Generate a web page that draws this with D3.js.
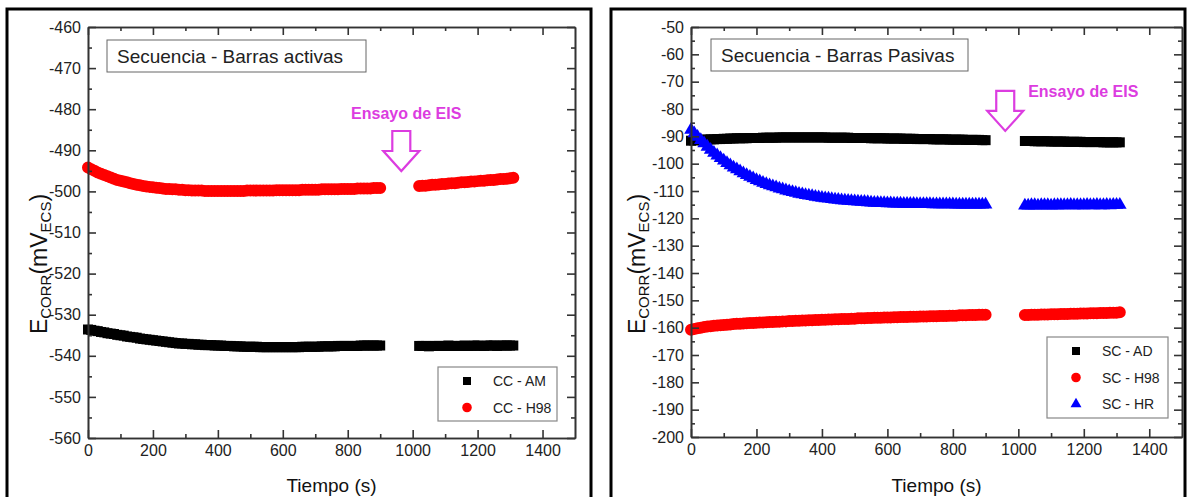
<!DOCTYPE html>
<html>
<head>
<meta charset="utf-8">
<script src="https://cdn.jsdelivr.net/npm/d3@7"></script>
<style>
  body{margin:0;background:#fff;}
  svg{display:block;font-family:Arial,"Liberation Sans",sans-serif;}
</style>
</head>
<body>
<div id="chart"></div>
<script>
// Time (s) before and after the EIS test
const timeA = [0,10,20,30,40,50,60,70,80,90,100,110,120,130,140,150,160,170,180,190,
  200,210,220,230,240,250,260,270,280,290,300,310,320,330,340,350,360,370,380,390,
  400,410,420,430,440,450,460,470,480,490,500,510,520,530,540,550,560,570,580,590,
  600,610,620,630,640,650,660,670,680,690,700,710,720,730,740,750,760,770,780,790,
  800,810,820,830,840,850,860,870,880,890,900];
const timeB = [1020,1030,1040,1050,1060,1070,1080,1090,1100,1110,1120,1130,1140,1150,1160,
  1170,1180,1190,1200,1210,1220,1230,1240,1250,1260,1270,1280,1290,1300,1310];

// Left panel: Barras activas
const ccAmA = [-533.6,-533.7,-533.9,-534.0,-534.2,-534.3,-534.5,-534.6,-534.7,-534.9,
  -535.0,-535.1,-535.3,-535.4,-535.5,-535.6,-535.8,-535.9,-536.0,-536.1,
  -536.2,-536.3,-536.4,-536.5,-536.6,-536.7,-536.8,-536.9,-537.0,-537.0,
  -537.1,-537.1,-537.2,-537.2,-537.3,-537.3,-537.4,-537.4,-537.4,-537.5,
  -537.5,-537.5,-537.6,-537.6,-537.6,-537.7,-537.7,-537.7,-537.8,-537.8,
  -537.8,-537.8,-537.8,-537.9,-537.9,-537.9,-537.9,-537.9,-537.9,-537.9,
  -537.9,-537.9,-537.9,-537.9,-537.9,-537.9,-537.8,-537.8,-537.8,-537.8,
  -537.8,-537.8,-537.7,-537.7,-537.7,-537.7,-537.7,-537.6,-537.6,-537.6,
  -537.6,-537.6,-537.6,-537.6,-537.5,-537.5,-537.5,-537.5,-537.5,-537.5,
  -537.5];
const ccAmB = [-537.6,-537.6,-537.6,-537.7,-537.6,-537.6,-537.6,-537.6,-537.6,-537.5,
  -537.6,-537.6,-537.6,-537.6,-537.5,-537.6,-537.6,-537.5,-537.5,-537.6,
  -537.6,-537.5,-537.5,-537.5,-537.6,-537.5,-537.5,-537.5,-537.5,-537.5];
const ccH98A = [-494.2,-494.6,-495.0,-495.4,-495.7,-496.0,-496.3,-496.6,-496.9,-497.2,
  -497.4,-497.6,-497.8,-498.0,-498.2,-498.4,-498.5,-498.7,-498.8,-498.9,
  -499.0,-499.1,-499.2,-499.3,-499.4,-499.4,-499.5,-499.5,-499.6,-499.6,
  -499.7,-499.7,-499.8,-499.8,-499.8,-499.8,-499.9,-499.9,-499.9,-499.9,
  -499.9,-499.9,-499.9,-499.9,-499.9,-499.9,-499.9,-499.9,-499.9,-499.8,
  -499.8,-499.8,-499.8,-499.8,-499.8,-499.8,-499.8,-499.8,-499.7,-499.7,
  -499.7,-499.7,-499.7,-499.7,-499.7,-499.7,-499.6,-499.6,-499.6,-499.6,
  -499.6,-499.6,-499.5,-499.5,-499.5,-499.5,-499.5,-499.5,-499.4,-499.4,
  -499.4,-499.4,-499.4,-499.3,-499.3,-499.3,-499.3,-499.3,-499.2,-499.2,
  -499.2];
const ccH98B = [-498.7,-498.6,-498.6,-498.5,-498.4,-498.4,-498.3,-498.2,-498.2,-498.1,
  -498.0,-498.0,-497.9,-497.8,-497.8,-497.7,-497.6,-497.6,-497.5,-497.4,
  -497.4,-497.3,-497.2,-497.2,-497.1,-497.0,-497.0,-496.9,-496.8,-496.7];

// Right panel: Barras pasivas
const scAdA = [-91.6,-91.5,-91.4,-91.3,-91.2,-91.2,-91.1,-91.1,-91.0,-91.0,
  -90.9,-90.9,-90.8,-90.8,-90.7,-90.7,-90.7,-90.7,-90.6,-90.6,
  -90.6,-90.6,-90.5,-90.5,-90.5,-90.5,-90.5,-90.4,-90.4,-90.4,
  -90.4,-90.4,-90.4,-90.4,-90.4,-90.4,-90.4,-90.4,-90.4,-90.4,
  -90.4,-90.4,-90.5,-90.5,-90.5,-90.5,-90.5,-90.5,-90.5,-90.6,
  -90.6,-90.6,-90.6,-90.6,-90.6,-90.7,-90.7,-90.7,-90.7,-90.7,
  -90.8,-90.8,-90.8,-90.8,-90.8,-90.9,-90.9,-90.9,-90.9,-91.0,
  -91.0,-91.0,-91.0,-91.0,-91.1,-91.1,-91.1,-91.1,-91.1,-91.2,
  -91.2,-91.2,-91.2,-91.2,-91.3,-91.3,-91.3,-91.3,-91.3,-91.4,
  -91.4];
const scAdB = [-91.7,-91.7,-91.7,-91.8,-91.8,-91.8,-91.8,-91.8,-91.9,-91.9,
  -91.9,-91.9,-91.9,-92.0,-92.0,-92.0,-92.0,-92.0,-92.1,-92.1,
  -92.1,-92.1,-92.1,-92.1,-92.2,-92.2,-92.2,-92.2,-92.2,-92.2];
const scH98A = [-160.8,-160.5,-160.2,-160.0,-159.8,-159.6,-159.5,-159.3,-159.2,-159.1,
  -159.0,-158.9,-158.8,-158.7,-158.6,-158.6,-158.5,-158.4,-158.3,-158.3,
  -158.2,-158.1,-158.1,-158.0,-157.9,-157.9,-157.8,-157.8,-157.7,-157.7,
  -157.6,-157.6,-157.5,-157.5,-157.4,-157.4,-157.3,-157.3,-157.2,-157.2,
  -157.1,-157.1,-157.0,-157.0,-156.9,-156.9,-156.8,-156.8,-156.8,-156.7,
  -156.7,-156.6,-156.6,-156.6,-156.5,-156.5,-156.4,-156.4,-156.4,-156.3,
  -156.3,-156.3,-156.2,-156.2,-156.1,-156.1,-156.1,-156.0,-156.0,-156.0,
  -155.9,-155.9,-155.9,-155.8,-155.8,-155.8,-155.7,-155.7,-155.7,-155.6,
  -155.6,-155.6,-155.5,-155.5,-155.5,-155.4,-155.4,-155.4,-155.3,-155.3,
  -155.3];
const scH98B = [-155.4,-155.4,-155.3,-155.3,-155.3,-155.2,-155.2,-155.2,-155.1,-155.1,
  -155.1,-155.0,-155.0,-155.0,-154.9,-154.9,-154.9,-154.8,-154.8,-154.8,
  -154.7,-154.7,-154.7,-154.6,-154.6,-154.6,-154.5,-154.5,-154.5,-154.4];
const scHrA = [-87.6,-88.9,-90.2,-91.4,-92.6,-93.8,-94.9,-96.0,-97.0,-98.0,
  -98.9,-99.8,-100.6,-101.4,-102.1,-102.8,-103.5,-104.2,-104.8,-105.4,
  -106.0,-106.5,-107.0,-107.5,-107.9,-108.3,-108.7,-109.1,-109.4,-109.8,
  -110.1,-110.4,-110.7,-111.0,-111.2,-111.5,-111.7,-111.9,-112.1,-112.3,
  -112.5,-112.7,-112.8,-113.0,-113.1,-113.2,-113.4,-113.5,-113.6,-113.7,
  -113.8,-113.9,-114.0,-114.0,-114.1,-114.2,-114.3,-114.3,-114.4,-114.4,
  -114.5,-114.5,-114.6,-114.6,-114.6,-114.7,-114.7,-114.7,-114.7,-114.8,
  -114.8,-114.8,-114.8,-114.8,-114.9,-114.9,-114.9,-114.9,-114.9,-114.9,
  -114.9,-115.0,-115.0,-115.0,-115.0,-115.0,-115.0,-115.0,-115.0,-115.0,
  -115.0];
const scHrB = [-115.3,-115.3,-115.2,-115.2,-115.3,-115.2,-115.2,-115.2,-115.3,-115.2,
  -115.2,-115.2,-115.2,-115.2,-115.1,-115.2,-115.2,-115.2,-115.2,-115.1,
  -115.2,-115.2,-115.1,-115.2,-115.2,-115.1,-115.2,-115.1,-115.1,-115.1];

const xTicks = [0,200,400,600,800,1000,1200,1400];

const svg = d3.select('#chart').append('svg')
  .attr('width', 1187).attr('height', 497);

// marker shapes
const shapes = {
  square: d3.symbol(d3.symbolSquare, 100),
  circle: d3.symbol(d3.symbolCircle, 113),
  triangle: d3.symbol(d3.symbolTriangle, 80)
};
const legendShapes = {
  square: d3.symbol(d3.symbolSquare, 64),
  circle: d3.symbol(d3.symbolCircle, 72),
  triangle: d3.symbol(d3.symbolTriangle, 52)
};

function drawPanel(p){
  const g = svg.append('g');
  const x = d3.scaleLinear().domain([0, 1500]).range([p.left, p.right]);
  const y = d3.scaleLinear().domain(p.yDomain).range([p.bottom, p.top]);
  const yMajor = d3.range(p.yDomain[0], p.yDomain[1] + 1, 10);
  const yMinor = d3.range(p.yDomain[0] + 5, p.yDomain[1], 10);
  const xMinor = d3.range(100, 1500, 200);
  const fmt = d => String(d);

  // outer frame
  g.append('rect')
    .attr('x', p.frame[0]).attr('y', 9)
    .attr('width', p.frame[1] - p.frame[0]).attr('height', 520)
    .attr('fill', 'none').attr('stroke', '#000').attr('stroke-width', 3);

  // series (drawn under the axes)
  p.series.forEach(s => {
    const pts = timeA.map((t, i) => [t, s.a[i]]).concat(timeB.map((t, i) => [t, s.b[i]]));
    g.append('g').selectAll('path')
      .data(pts).join('path')
      .attr('d', shapes[s.shape])
      .attr('transform', d => `translate(${x(d[0])},${y(d[1])})`)
      .attr('fill', s.color);
  });

  // axes, ticks inward
  const axes = [
    [d3.axisBottom(x).tickValues(xTicks).tickFormat(fmt), `translate(0,${p.bottom})`, 8],
    [d3.axisBottom(x).tickValues(xMinor).tickFormat(''), `translate(0,${p.bottom})`, 4],
    [d3.axisTop(x).tickValues(xTicks).tickFormat(''), `translate(0,${p.top})`, 8],
    [d3.axisTop(x).tickValues(xMinor).tickFormat(''), `translate(0,${p.top})`, 4],
    [d3.axisLeft(y).tickValues(yMajor).tickFormat(fmt), `translate(${p.left},0)`, 8],
    [d3.axisLeft(y).tickValues(yMinor).tickFormat(''), `translate(${p.left},0)`, 4],
    [d3.axisRight(y).tickValues(yMajor).tickFormat(''), `translate(${p.right},0)`, 8],
    [d3.axisRight(y).tickValues(yMinor).tickFormat(''), `translate(${p.right},0)`, 4]
  ];
  axes.forEach(([ax, tr, len]) => {
    const a = g.append('g').attr('transform', tr)
      .call(ax.tickSizeInner(-len).tickSizeOuter(0).tickPadding(7));
    a.selectAll('path,line').attr('stroke', '#333').attr('stroke-width', 1.6);
    a.selectAll('text').attr('font-size', 16).attr('fill', '#222')
      .attr('font-family', 'Arial, "Liberation Sans", sans-serif');
  });

  // title box
  g.append('rect')
    .attr('x', p.title.x).attr('y', p.title.y)
    .attr('width', p.title.w).attr('height', 32)
    .attr('fill', '#fff').attr('stroke', '#666').attr('stroke-width', 1);
  g.append('text')
    .attr('x', p.title.x + 10).attr('y', p.title.y + 23)
    .attr('font-size', 19).attr('fill', '#222')
    .text(p.title.text);

  // EIS annotation: hollow arrow + label
  const ax0 = x(p.arrow.t), ay0 = y(p.arrow.v);
  const arrowPts = [[-9,0],[9,0],[9,20],[18,20],[0,40],[-18,20],[-9,20]]
    .map(d => [ax0 + d[0], ay0 + d[1]]);
  g.append('path')
    .attr('d', d3.line()(arrowPts) + 'Z')
    .attr('fill', '#fff').attr('stroke', '#dc3ce0').attr('stroke-width', 2.2)
    .attr('stroke-linejoin', 'miter');
  g.append('text')
    .attr('x', x(p.label.t)).attr('y', y(p.label.v))
    .attr('text-anchor', p.label.anchor)
    .attr('font-size', 16).attr('font-weight', 'bold').attr('fill', '#dc3ce0')
    .text('Ensayo de EIS');

  // legend
  const lg = g.append('g');
  lg.append('rect')
    .attr('x', p.legend.x).attr('y', p.legend.y)
    .attr('width', p.legend.w).attr('height', p.legend.h)
    .attr('fill', '#fff').attr('stroke', '#888').attr('stroke-width', 1.2);
  p.series.slice().sort((a, b) => a.order - b.order).forEach((s, i) => {
    const ry = p.legend.y + 14 + i * 26.5;
    lg.append('path').attr('d', legendShapes[s.shape])
      .attr('transform', `translate(${p.legend.x + 29},${ry})`)
      .attr('fill', s.color);
    lg.append('text')
      .attr('x', p.legend.x + 55).attr('y', ry + 5)
      .attr('font-size', 14).attr('fill', '#222')
      .text(s.name);
  });

  // axis titles
  g.append('text')
    .attr('x', (p.left + p.right) / 2).attr('y', 492)
    .attr('text-anchor', 'middle').attr('font-size', 19).attr('fill', '#111')
    .text('Tiempo (s)');
  const yt = g.append('text')
    .attr('transform', `translate(${p.yTitleX},${p.yTitleY}) rotate(-90)`)
    .attr('text-anchor', 'middle').attr('font-size', 23).attr('fill', '#111');
  yt.append('tspan').text('E');
  yt.append('tspan').attr('font-size', 15).attr('dy', 4).text('CORR');
  yt.append('tspan').attr('dy', -4).text('(mV');
  yt.append('tspan').attr('font-size', 15).attr('dy', 4).text('ECS');
  yt.append('tspan').attr('dy', -4).text(')');
}

drawPanel({
  frame: [7, 591],
  left: 88, right: 575, top: 27, bottom: 438,
  yDomain: [-560, -460],
  yTitleX: 47, yTitleY: 264,
  title: {x: 107, y: 40, w: 259, text: 'Secuencia - Barras activas'},
  arrow: {t: 965, v: -485.3},
  label: {t: 980, v: -482.4, anchor: 'middle'},
  legend: {x: 438, y: 367, w: 119, h: 54},
  series: [
    {name: 'CC - AM', a: ccAmA, b: ccAmB, shape: 'square', color: '#000', order: 0},
    {name: 'CC - H98', a: ccH98A, b: ccH98B, shape: 'circle', color: '#f00', order: 1}
  ]
});

drawPanel({
  frame: [611, 1185],
  left: 691, right: 1182, top: 27, bottom: 437,
  yDomain: [-200, -50],
  yTitleX: 645, yTitleY: 264,
  title: {x: 711, y: 39, w: 257, text: 'Secuencia - Barras Pasivas'},
  arrow: {t: 960, v: -73.4},
  label: {t: 1030, v: -75.6, anchor: 'start'},
  legend: {x: 1047, y: 337, w: 121, h: 81},
  series: [
    {name: 'SC - AD', a: scAdA, b: scAdB, shape: 'square', color: '#000', order: 0},
    {name: 'SC - H98', a: scH98A, b: scH98B, shape: 'circle', color: '#f00', order: 1},
    {name: 'SC - HR', a: scHrA, b: scHrB, shape: 'triangle', color: '#00f', order: 2}
  ]
});
</script>
</body>
</html>
